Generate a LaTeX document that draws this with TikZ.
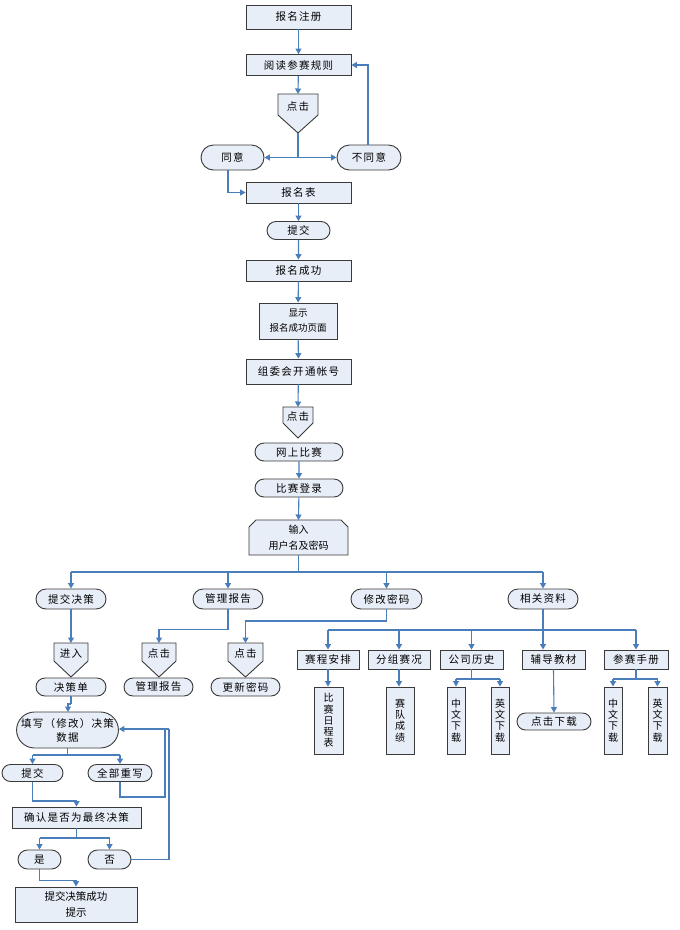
\documentclass[tikz,border=0pt]{standalone}
\usepackage{fontspec}
\newfontfamily\cjk{Noto Sans CJK SC}
\newfontfamily\cjks[LetterSpace=12]{Noto Sans CJK SC}
\usetikzlibrary{arrows.meta,shapes.misc}
\definecolor{lblue}{HTML}{4A7EBB}
\definecolor{bdr}{HTML}{3A3A3A}
\definecolor{boxfill}{HTML}{E8EEF8}
\tikzset{
  lnk/.style={draw=lblue, line width=1.1pt, -{Triangle[length=5.5pt,width=6pt]}},
  plain/.style={draw=lblue, line width=1.1pt},
  shp/.style={draw=bdr, line width=0.9pt, fill=boxfill, line join=miter},
  txt/.style={inner sep=0, font=\cjks\fontsize{10.5}{12}\selectfont},
  rbox/.style={draw=bdr, line width=0.9pt, fill=boxfill, inner sep=0, align=center, font=\cjks\fontsize{10.5}{12}\selectfont},
  sbox/.style={rounded rectangle, draw=bdr, line width=0.9pt, fill=boxfill, inner sep=0, align=center, font=\cjks\fontsize{10.5}{12}\selectfont},
  vbox/.style={draw=bdr, line width=0.9pt, fill=boxfill, inner sep=0, align=center, font=\cjk\fontsize{10}{11.2}\selectfont},
}
\newcommand{\pentshape}[7]{%
  \draw[shp] (#2-#3,#4) -- (#2+#3,#4) -- (#2+#3,#5) -- (#2,#6) -- (#2-#3,#5) -- cycle;
  \coordinate (#1t) at (#2,#4);
  \coordinate (#1b) at (#2,#6);
  \node[txt] (#1) at (#2,{(#4+#5)/2+2}) {#7};
}
\begin{document}
\begin{tikzpicture}[x=1pt,y=-1pt]
\useasboundingbox (0,0) rectangle (680,930);
\fill[white] (0,0) rectangle (680,930);

% ---------- top column ----------
\node[rbox, minimum width=105, minimum height=24] (r1) at (298.5,17) {报名注册};
\node[rbox, minimum width=105, minimum height=21] (r2) at (298.5,65) {阅读参赛规则};
\pentshape{p1}{298}{20}{94}{115}{133}{点击}
\node[sbox, minimum width=63, minimum height=25] (s1) at (232.5,157.5) {同意};
\node[sbox, minimum width=64, minimum height=25] (s2) at (369,157.5) {不同意};
\node[rbox, minimum width=105, minimum height=21] (r3) at (298.5,192.5) {报名表};
\node[sbox, minimum width=63, minimum height=18] (s3) at (298.5,230.5) {提交};
\node[rbox, minimum width=105, minimum height=21] (r4) at (298.5,270.5) {报名成功};
\node[rbox, minimum width=78, minimum height=36, font=\cjk\fontsize{9.5}{15}\selectfont] (r5) at (298,321) {显示\\报名成功页面};
\node[rbox, minimum width=105, minimum height=25] (r6) at (298.5,371.5) {组委会开通帐号};
\pentshape{p2}{298}{15}{407}{423}{438}{点击}
\node[sbox, minimum width=88, minimum height=18] (s4) at (299,452) {网上比赛};
\node[sbox, minimum width=88, minimum height=18] (s5) at (299,488) {比赛登录};
\draw[shp] (249,555) -- (249,527) -- (256,520) -- (341,520) -- (348,527) -- (348,555) -- cycle;
\coordinate (o1t) at (298.5,520);
\coordinate (o1b) at (298.5,555);
\node[txt, align=center, font=\cjk\fontsize{10}{16}\selectfont] (o1) at (298.5,537.5) {输入\\用户名及密码};

\draw[lnk] (r1) -- (r2);
\draw[lnk] (r2) -- (p1t);
\coordinate (j1) at (298,157.5);
\draw[plain] (p1b) -- (j1);
\draw[lnk] (j1) -- (s1.east);
\draw[lnk] (j1) -- (s2.west);
\draw[lnk] ([xshift=-1pt]s2.north) |- (r2.east);
\draw[lnk] ([xshift=-4.5pt]s1.south) |- (r3.west);
\draw[lnk] (r3) -- (s3);
\draw[lnk] (s3) -- (r4);
\draw[lnk] (r4) -- (r5);
\draw[lnk] (r5) -- (r6);
\draw[lnk] (r6) -- (p2t);
\draw[lnk] (s4) -- (s5);
\draw[lnk] (s5) -- (o1t);

% ---------- second level ----------
\node[sbox, minimum width=70, minimum height=20] (s6) at (71,599) {提交决策};
\node[sbox, minimum width=70, minimum height=20] (s7) at (228,599) {管理报告};
\node[sbox, minimum width=71, minimum height=20] (s8) at (386.5,599) {修改密码};
\node[sbox, minimum width=70, minimum height=20] (s9) at (543,599) {相关资料};
\coordinate (bus) at (298.5,572);
\draw[plain] (o1b) -- (bus);
\draw[plain] (bus -| s6.north) -- (bus -| s9.north);
\draw[lnk] (bus -| s6.north) -- (s6.north);
\draw[lnk] (bus -| s7.north) -- (s7.north);
\draw[lnk] (bus -| s8.north) -- (s8.north);
\draw[lnk] (bus -| s9.north) -- (s9.north);

% ---------- left branches ----------
\pentshape{p3}{71}{17}{643}{661}{677}{进入}
\pentshape{p4}{159}{17}{643}{661}{677}{点击}
\pentshape{p5}{245.5}{17.5}{643}{661}{677}{点击}
\node[sbox, minimum width=70, minimum height=18] (s10) at (71,687) {决策单};
\node[sbox, minimum width=69, minimum height=18] (s11) at (158.5,687) {管理报告};
\node[sbox, minimum width=69, minimum height=18] (s12) at (245.5,687) {更新密码};
\draw[lnk] (s6) -- (p3t);
\draw[lnk] (s7.south) -- ++(0,20) -| (p4t);
\draw[lnk] (s8.south) -- ++(0,11.5) -| (p5t);

\node[sbox, minimum width=99, minimum height=36, font=\cjks\fontsize{10.5}{14}\selectfont] (s13) at (67.5,730) {填写（修改）决策\\数据};
\coordinate (k1) at (71,704);
\draw[plain] (s10.south) -- (k1);
\draw[lnk] (k1) -- (68,704) -- (68,712);

\node[sbox, minimum width=61, minimum height=17] (s14) at (32.5,773) {提交};
\node[sbox, minimum width=64, minimum height=17] (s15) at (120,773) {全部重写};
\coordinate (k2) at (67.5,755);
\draw[plain] (s13.south) -- (k2);
\draw[plain] (k2 -| s14.north) -- (k2 -| s15.north);
\draw[lnk] (k2 -| s14.north) -- (s14.north);
\draw[lnk] (k2 -| s15.north) -- (s15.north);

\node[rbox, minimum width=129, minimum height=21] (r7) at (76.5,817.5) {确认是否为最终决策};
\draw[lnk] (s14.south) -- ++(0,19) -| (r7.north);

\node[sbox, minimum width=43, minimum height=19] (s16) at (39.5,859.5) {是};
\node[sbox, minimum width=43, minimum height=19] (s17) at (109.5,859.5) {否};
\coordinate (k3) at (76.5,838);
\draw[plain] (r7.south) -- (k3);
\draw[plain] (k3 -| s16.north) -- (k3 -| s17.north);
\draw[lnk] (k3 -| s16.north) -- (s16.north);
\draw[lnk] (k3 -| s17.north) -- (s17.north);

\node[rbox, minimum width=122, minimum height=35, font=\cjk\fontsize{10.5}{16}\selectfont] (r8) at (76,904.5) {提交决策成功\\提示};
\draw[lnk] (s16.south) -- ++(0,11) -| (r8.north);

% loops back to 填写
\coordinate (lp) at (169,729);
\draw[plain] (s15.south) -- ++(0,15) -| (165,729);
\draw[plain] (s17.east) -| (lp);
\draw[lnk] (lp) -- (s13.east |- lp);

% ---------- right branches ----------
\node[rbox, minimum width=62, minimum height=19] (r9) at (328,659.5) {赛程安排};
\node[rbox, minimum width=62, minimum height=19] (r10) at (399,659.5) {分组赛况};
\node[rbox, minimum width=63, minimum height=19] (r11) at (471.5,659.5) {公司历史};
\node[rbox, minimum width=63, minimum height=19] (r12) at (553.5,659.5) {辅导教材};
\node[rbox, minimum width=64, minimum height=19] (r13) at (636,659.5) {参赛手册};
\coordinate (bus2) at (543,630);
\draw[plain] (s9.south) -- (bus2);
\draw[plain] (bus2 -| r9.north) -- (bus2 -| r13.north);
\draw[lnk] (bus2 -| r9.north) -- (r9.north);
\draw[lnk] (bus2 -| r10.north) -- (r10.north);
\draw[lnk] (bus2 -| r11.north) -- (r11.north);
\draw[lnk] (bus2) -- (bus2 |- r12.north);
\draw[lnk] (bus2 -| r13.north) -- (r13.north);

\node[vbox, minimum width=29, minimum height=67] (v1) at (328.5,720.5) {比\\赛\\日\\程\\表};
\node[vbox, minimum width=28, minimum height=67] (v2) at (400,720.5) {赛\\队\\成\\绩};
\node[vbox, minimum width=18, minimum height=67] (v3) at (456,720.5) {中\\文\\下\\载};
\node[vbox, minimum width=18, minimum height=67] (v4) at (500,720.5) {英\\文\\下\\载};
\node[sbox, minimum width=74, minimum height=17] (s18) at (554,721.5) {点击下载};
\node[vbox, minimum width=18, minimum height=67] (v5) at (613,720.5) {中\\文\\下\\载};
\node[vbox, minimum width=19, minimum height=67] (v6) at (657.5,720.5) {英\\文\\下\\载};

\draw[lnk] (r9.south) -- (r9.south |- v1.north);
\draw[lnk] (r10.south) -- (r10.south |- v2.north);
\coordinate (k4) at (471.5,679);
\draw[plain] (r11.south) -- (k4);
\draw[plain] (k4 -| v3.north) -- (k4 -| v4.north);
\draw[lnk] (k4 -| v3.north) -- (v3.north);
\draw[lnk] (k4 -| v4.north) -- (v4.north);
\draw[lnk] (r12.south) -- (s18.north);
\coordinate (k5) at (636,679);
\draw[plain] (r13.south) -- (k5);
\draw[plain] (k5 -| v5.north) -- (k5 -| v6.north);
\draw[lnk] (k5 -| v5.north) -- (v5.north);
\draw[lnk] (k5 -| v6.north) -- (v6.north);
\end{tikzpicture}
\end{document}
